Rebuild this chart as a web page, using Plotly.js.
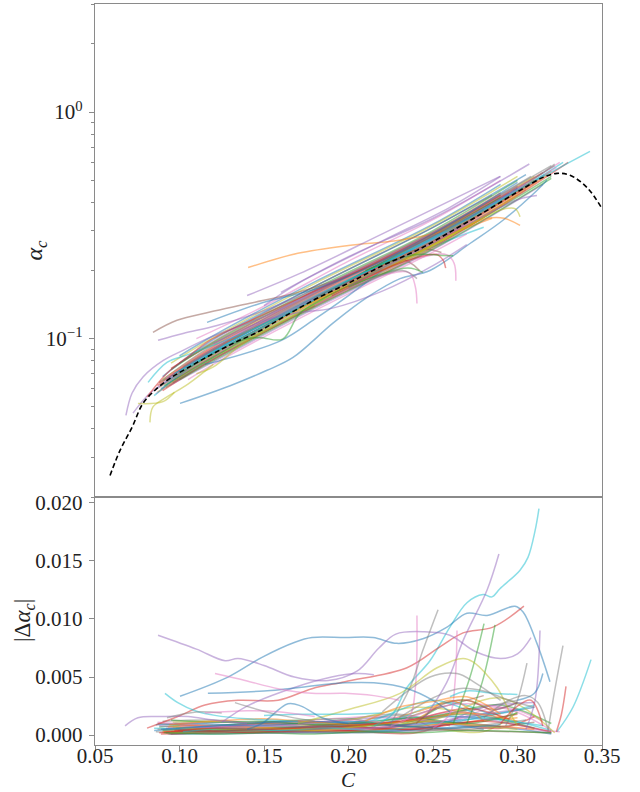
<!DOCTYPE html>
<html><head><meta charset="utf-8">
<script src="https://cdn.plot.ly/plotly-3.0.1.min.js"></script>
<style>body{margin:0;padding:0;background:#fff}#chart{width:640px;height:792px}</style>
</head><body><div id="chart"></div>
<script>
// ---------- data ----------
const tab10 = ['#1f77b4','#ff7f0e','#2ca02c','#d62728','#9467bd','#8c564b','#e377c2','#7f7f7f','#bcbd22','#17becf'];

const dashedC = [0.0589,0.0648,0.0719,0.0784,0.0867,0.0944,0.1044,0.1180,0.1317,0.1459,0.1612,0.1814,0.2009,0.2204,0.2405,0.2618,0.2820,0.3015,0.3151,0.3234,0.3311,0.3411,0.3500];
const dashedAlpha = [0.0249,0.0321,0.0406,0.0518,0.0603,0.0668,0.0740,0.0844,0.0953,0.1066,0.1242,0.1507,0.1772,0.2105,0.2453,0.3006,0.3683,0.4513,0.515,0.5364,0.526,0.465,0.375];

const topBand = [
 [[0.090,0.12,0.18,0.25,0.310],[0.063,0.086,0.148,0.268,0.49]],
 [[0.088,0.12,0.18,0.25,0.300],[0.064,0.090,0.156,0.282,0.47]],
 [[0.092,0.12,0.18,0.25,0.320],[0.061,0.082,0.141,0.255,0.52]],
 [[0.095,0.12,0.18,0.25,0.290],[0.074,0.095,0.163,0.295,0.44]],
 [[0.094,0.12,0.18,0.25,0.315],[0.062,0.079,0.136,0.247,0.48]],
 [[0.100,0.12,0.18,0.25,0.285],[0.078,0.097,0.170,0.310,0.43]],
 [[0.086,0.12,0.18,0.25,0.325],[0.057,0.085,0.150,0.275,0.60]],
 [[0.097,0.12,0.18,0.25,0.305],[0.066,0.083,0.144,0.260,0.455]],
 [[0.090,0.12,0.18,0.25,0.310],[0.066,0.093,0.160,0.290,0.52]],
 [[0.093,0.12,0.18,0.25,0.280],[0.067,0.088,0.150,0.255,0.31]],
 [[0.100,0.12,0.18,0.25,0.290],[0.084,0.103,0.178,0.320,0.48]],
 [[0.087,0.12,0.18,0.25,0.320],[0.058,0.084,0.145,0.262,0.55]],
 [[0.095,0.12,0.18,0.25,0.300],[0.073,0.096,0.166,0.300,0.50]],
 [[0.090,0.12,0.18,0.25,0.330],[0.059,0.081,0.139,0.252,0.60]],
 [[0.092,0.12,0.18,0.25,0.295],[0.066,0.090,0.155,0.281,0.44]],
 [[0.095,0.12,0.18,0.24,0.255],[0.067,0.086,0.148,0.247,0.24]],
 [[0.110,0.15,0.20,0.25,0.290],[0.100,0.139,0.220,0.335,0.50]],
 [[0.088,0.12,0.18,0.25,0.320],[0.064,0.094,0.163,0.295,0.58]],
 [[0.098,0.12,0.18,0.25,0.300],[0.068,0.083,0.142,0.257,0.43]],
 [[0.085,0.12,0.18,0.25,0.310],[0.056,0.088,0.151,0.273,0.50]],
 [[0.090,0.12,0.18,0.25,0.305],[0.068,0.099,0.170,0.310,0.53]],
 [[0.096,0.12,0.18,0.25,0.285],[0.068,0.086,0.148,0.268,0.34]],
 [[0.100,0.12,0.18,0.25,0.320],[0.066,0.080,0.138,0.249,0.51]],
 [[0.087,0.12,0.18,0.25,0.315],[0.062,0.092,0.158,0.287,0.54]],
 [[0.150,0.17,0.22,0.26,0.290],[0.140,0.175,0.270,0.380,0.52]],
 [[0.100,0.12,0.18,0.23,0.242],[0.070,0.086,0.148,0.225,0.20]],
 [[0.105,0.12,0.18,0.25,0.270],[0.066,0.077,0.133,0.241,0.29]],
 [[0.090,0.12,0.18,0.25,0.322],[0.065,0.089,0.154,0.279,0.58]],
 [[0.095,0.12,0.18,0.25,0.300],[0.078,0.101,0.175,0.316,0.52]],
 [[0.093,0.12,0.18,0.25,0.327],[0.065,0.086,0.148,0.268,0.60]],
 [[0.089,0.12,0.18,0.25,0.300],[0.060,0.087,0.152,0.277,0.46]],
 [[0.094,0.12,0.18,0.25,0.318],[0.069,0.091,0.146,0.258,0.53]],
 [[0.091,0.12,0.18,0.25,0.290],[0.062,0.083,0.150,0.285,0.42]],
 [[0.099,0.12,0.18,0.25,0.312],[0.071,0.089,0.152,0.270,0.50]],
 [[0.086,0.12,0.18,0.25,0.305],[0.060,0.090,0.161,0.283,0.48]],
 [[0.096,0.12,0.18,0.25,0.296],[0.064,0.081,0.140,0.263,0.43]],
 [[0.092,0.12,0.18,0.25,0.323],[0.067,0.092,0.150,0.266,0.57]],
 [[0.102,0.12,0.18,0.25,0.308],[0.075,0.090,0.158,0.292,0.52]],
 [[0.088,0.12,0.18,0.25,0.282],[0.061,0.085,0.146,0.259,0.35]],
 [[0.097,0.12,0.18,0.25,0.316],[0.070,0.088,0.153,0.276,0.53]]
];

const topOutliers = [
 [[0.1406,0.17,0.20,0.23,0.26,0.29,0.31],[0.206,0.238,0.258,0.272,0.305,0.40,0.50]],
 [[0.1003,0.13,0.1518,0.1672,0.1908,0.211,0.2305,0.2482,0.2719,0.2914,0.3115,0.3174],[0.0518,0.062,0.0725,0.0826,0.117,0.152,0.184,0.200,0.263,0.333,0.451,0.50]],
 [[0.115,0.124,0.16,0.18,0.20,0.22],[0.077,0.080,0.098,0.122,0.155,0.20]],
 [[0.0843,0.0985,0.118,0.1417,0.17,0.20,0.24,0.28],[0.1066,0.1205,0.131,0.1432,0.16,0.19,0.26,0.37]],
 [[0.0873,0.1021,0.1222,0.15,0.18,0.22,0.26,0.30],[0.0983,0.1054,0.1144,0.133,0.165,0.225,0.32,0.47]],
 [[0.0683,0.0719,0.0784,0.0902,0.1021,0.118,0.15,0.20],[0.0458,0.0574,0.0678,0.080,0.0888,0.1013,0.125,0.19]],
 [[0.0725,0.0825,0.0926,0.11,0.14,0.18],[0.0469,0.0574,0.0641,0.076,0.102,0.15]],
 [[0.0825,0.0843,0.0926,0.105,0.12],[0.0427,0.050,0.0553,0.063,0.077]],
 [[0.0754,0.0902,0.097],[0.0517,0.0527,0.058]],
 [[0.11,0.1198,0.1376,0.16,0.19],[0.070,0.0748,0.0953,0.118,0.155]],
 [[0.0814,0.0926,0.105,0.13,0.17],[0.0641,0.0785,0.085,0.100,0.135]],
 [[0.0808,0.0926,0.1044,0.118,0.15,0.20,0.25,0.29],[0.0553,0.0704,0.0826,0.0983,0.128,0.19,0.29,0.43]],
 [[0.1163,0.1476,0.1831,0.22,0.26,0.30],[0.118,0.143,0.168,0.22,0.32,0.49]],
 [[0.12,0.15,0.17,0.19,0.22,0.25,0.27],[0.095,0.120,0.130,0.136,0.162,0.21,0.26]],
 [[0.13,0.14,0.148,0.161,0.171,0.185,0.22],[0.094,0.100,0.101,0.0995,0.129,0.150,0.205]],
 [[0.14,0.1713,0.22,0.2897],[0.155,0.194,0.29,0.52]],
 [[0.16,0.20,0.25,0.307],[0.160,0.230,0.34,0.59]],
 [[0.10,0.15,0.20,0.25,0.30,0.3293,0.3429],[0.072,0.113,0.18,0.28,0.45,0.592,0.671]],
 [[0.18,0.22,0.26,0.282,0.292,0.3015],[0.148,0.205,0.29,0.339,0.34,0.316]],
 [[0.20,0.25,0.29,0.2985,0.3015],[0.17,0.26,0.37,0.375,0.345]],
 [[0.20,0.26,0.30,0.3115],[0.17,0.29,0.41,0.428]],
 [[0.20,0.24,0.258,0.2625,0.2635],[0.17,0.225,0.235,0.215,0.18]],
 [[0.18,0.22,0.236,0.2395,0.2405],[0.14,0.19,0.195,0.17,0.143]],
 [[0.19,0.23,0.252,0.256,0.2575],[0.155,0.215,0.235,0.222,0.205]],
 [[0.20,0.235,0.244],[0.17,0.205,0.196]],
 [[0.20,0.232,0.2405],[0.165,0.20,0.184]],
 [[0.21,0.24,0.255,0.262],[0.20,0.235,0.233,0.232]],
 [[0.20,0.26,0.30,0.322],[0.17,0.30,0.45,0.59]]
];
const topOutlierColors = ['#ff7f0e','#1f77b4','#1f77b4','#8c564b','#9467bd','#9467bd','#9467bd','#bcbd22','#bcbd22','#bcbd22','#17becf','#d62728','#1f77b4','#9467bd','#2ca02c','#9467bd','#9467bd','#17becf','#ff7f0e','#bcbd22','#9467bd','#e377c2','#e377c2','#d62728','#2ca02c','#7f7f7f','#2ca02c','#7f7f7f'];

const bottomMajor = [
 [[0.215,0.226,0.2346,0.2482,0.26,0.2701,0.2796,0.2849,0.2896,0.3015,0.3062,0.3104,0.3127],[0.0008,0.0018,0.0041,0.0064,0.0093,0.0114,0.0121,0.0119,0.0126,0.0142,0.0153,0.0176,0.0195]],
 [[0.1003,0.1287,0.1488,0.1683,0.1784,0.1979,0.2145,0.2287,0.244,0.2583,0.2701,0.282,0.2985,0.3033,0.3115,0.3192],[0.00335,0.0050,0.0067,0.0080,0.0084,0.0084,0.0084,0.0079,0.0083,0.0093,0.0105,0.0103,0.0111,0.0106,0.0079,0.0046]],
 [[0.0808,0.099,0.1151,0.1346,0.1583,0.1784,0.1979,0.2346,0.2541,0.2678,0.2855,0.3038],[0.0006,0.0016,0.0026,0.0030,0.0030,0.0040,0.0046,0.0058,0.0076,0.0088,0.0093,0.0111]],
 [[0.0873,0.11,0.127,0.1346,0.15,0.168,0.188,0.205,0.218,0.228,0.245,0.26,0.275,0.29,0.30,0.308],[0.0086,0.0074,0.0064,0.0066,0.0060,0.0050,0.0047,0.0055,0.0075,0.0087,0.0089,0.0086,0.0072,0.0066,0.0070,0.0084]],
 [[0.125,0.14,0.168,0.19,0.205,0.215],[0.0011,0.0025,0.0041,0.0050,0.0053,0.0052]],
 [[0.0678,0.0754,0.0896,0.105,0.12,0.14],[0.0008,0.0015,0.0016,0.0016,0.0013,0.0010]],
 [[0.245,0.258,0.268,0.282,0.289],[0.0015,0.0045,0.0082,0.0125,0.0156]],
 [[0.225,0.236,0.2395,0.2405],[0.0008,0.0016,0.0040,0.0103]],
 [[0.225,0.2364,0.244,0.253],[0.0010,0.0041,0.0073,0.0108]],
 [[0.25,0.26,0.263,0.2642],[0.0006,0.0018,0.0045,0.0090]],
 [[0.262,0.2719,0.2802],[0.0010,0.0050,0.0096]],
 [[0.27,0.279,0.2867],[0.0010,0.0045,0.0095]],
 [[0.318,0.321,0.3269],[0.0003,0.0030,0.0077]],
 [[0.3234,0.3328,0.3435],[0.0003,0.0024,0.0065]],
 [[0.323,0.326,0.3287],[0.0003,0.0018,0.0042]],
 [[0.305,0.3104,0.3133],[0.0005,0.0030,0.0090]],
 [[0.17,0.20,0.2305,0.2524,0.2678,0.2737,0.2879,0.2956,0.30],[0.0010,0.0022,0.0036,0.0058,0.0066,0.0063,0.0041,0.0019,0.0008]],
 [[0.22,0.2482,0.2642,0.275,0.29],[0.0020,0.0050,0.0053,0.0045,0.0030]],
 [[0.1168,0.15,0.1979,0.215,0.235,0.25,0.26],[0.0036,0.0038,0.0045,0.0045,0.0040,0.0030,0.0020]],
 [[0.121,0.1388,0.1583,0.1784,0.1979,0.215,0.23],[0.0053,0.0047,0.0040,0.0036,0.0036,0.0034,0.0030]],
 [[0.0914,0.099,0.1092,0.121,0.14,0.17],[0.0036,0.0028,0.0021,0.0017,0.0014,0.0012]],
 [[0.15,0.17,0.20,0.22],[0.0017,0.0018,0.0018,0.0019]],
 [[0.14,0.1488,0.1642,0.172,0.1843,0.20],[0.0005,0.0010,0.0027,0.0025,0.0015,0.0010]],
 [[0.1328,0.1488,0.16,0.18],[0.0028,0.0021,0.0017,0.0012]],
 [[0.0926,0.11,0.125],[0.0015,0.0020,0.0019]],
 [[0.115,0.14,0.16,0.18],[0.0019,0.0021,0.0020,0.0016]],
 [[0.293,0.30,0.3056],[0.0008,0.0030,0.0062]],
 [[0.26,0.27,0.285,0.30],[0.0033,0.0038,0.0036,0.0035]],
 [[0.30,0.31,0.315],[0.0030,0.0036,0.0053]],
 [[0.28,0.295,0.305,0.312,0.318],[0.0015,0.0030,0.0034,0.0028,0.0005]],
 [[0.29,0.30,0.308,0.315],[0.0010,0.0025,0.0030,0.0008]],
 [[0.23,0.25,0.265,0.28,0.295,0.31],[0.0015,0.0032,0.0040,0.0038,0.0030,0.0024]],
 [[0.24,0.255,0.27,0.285,0.30],[0.0010,0.0026,0.0030,0.0022,0.0028]],
 [[0.21,0.23,0.25,0.27,0.29],[0.0012,0.0024,0.0029,0.0033,0.0018]]
];
const bottomMajorColors = ['#17becf','#1f77b4','#d62728','#9467bd','#9467bd','#9467bd','#9467bd','#e377c2','#7f7f7f','#e377c2','#2ca02c','#2ca02c','#7f7f7f','#17becf','#d62728','#9467bd','#bcbd22','#7f7f7f','#1f77b4','#e377c2','#17becf','#17becf','#1f77b4','#7f7f7f','#7f7f7f','#e377c2','#7f7f7f','#17becf','#1f77b4','#7f7f7f','#d62728','#7f7f7f','#8c564b','#ff7f0e'];

const bottomMinor = [
 [[0.085,0.12,0.16,0.20,0.24,0.28],[0.0004,0.0006,0.0005,0.0008,0.0012,0.0005]],
 [[0.09,0.13,0.17,0.21,0.25,0.30],[0.0002,0.0003,0.0004,0.0006,0.0009,0.0015]],
 [[0.088,0.11,0.15,0.19,0.23,0.27,0.31],[0.0007,0.0009,0.0006,0.0007,0.0011,0.0018,0.0006]],
 [[0.095,0.12,0.16,0.20,0.24,0.265],[0.0001,0.0003,0.0007,0.0004,0.0002,0.0015]],
 [[0.10,0.14,0.18,0.22,0.26,0.30,0.32],[0.0005,0.0004,0.0003,0.0005,0.0016,0.0009,0.0002]],
 [[0.087,0.12,0.16,0.20,0.24,0.27],[0.0010,0.0008,0.0011,0.0009,0.0013,0.0022]],
 [[0.092,0.13,0.17,0.21,0.25,0.29,0.315],[0.0003,0.0002,0.0002,0.0003,0.0007,0.0024,0.0012]],
 [[0.09,0.12,0.15,0.19,0.23,0.26],[0.0012,0.0013,0.0010,0.0012,0.0018,0.0008]],
 [[0.098,0.13,0.17,0.21,0.25,0.28,0.30],[0.0002,0.0005,0.0008,0.0010,0.0006,0.0003,0.0020]],
 [[0.085,0.11,0.14,0.18,0.22,0.26,0.29],[0.0006,0.0005,0.0004,0.0006,0.0010,0.0028,0.0013]],
 [[0.094,0.12,0.16,0.20,0.24,0.28,0.32],[0.0001,0.0001,0.0002,0.0002,0.0004,0.0008,0.0001]],
 [[0.10,0.13,0.17,0.21,0.24,0.27,0.295],[0.0009,0.0007,0.0005,0.0008,0.0020,0.0030,0.0010]],
 [[0.09,0.12,0.16,0.20,0.23,0.255],[0.0004,0.0008,0.0012,0.0014,0.0009,0.0025]],
 [[0.095,0.13,0.17,0.21,0.25,0.29,0.31],[0.0003,0.0004,0.0006,0.0004,0.0012,0.0006,0.0016]],
 [[0.088,0.12,0.15,0.18,0.22,0.26,0.30],[0.0008,0.0006,0.0008,0.0011,0.0015,0.0012,0.0028]],
 [[0.092,0.13,0.17,0.21,0.25,0.28],[0.0002,0.0004,0.0003,0.0006,0.0022,0.0034]],
 [[0.10,0.14,0.18,0.22,0.26,0.30,0.325],[0.0006,0.0009,0.0013,0.0016,0.0010,0.0006,0.0003]],
 [[0.086,0.11,0.15,0.19,0.23,0.27,0.30],[0.0003,0.0002,0.0003,0.0005,0.0008,0.0021,0.0030]],
 [[0.096,0.12,0.16,0.20,0.24,0.275],[0.0011,0.0012,0.0009,0.0013,0.0024,0.0018]],
 [[0.09,0.13,0.17,0.21,0.25,0.29,0.32],[0.0005,0.0006,0.0009,0.0012,0.0016,0.0014,0.0004]],
 [[0.10,0.13,0.16,0.20,0.24,0.28,0.31],[0.0002,0.0003,0.0004,0.0003,0.0005,0.0016,0.0024]],
 [[0.093,0.12,0.16,0.20,0.24,0.26,0.28],[0.0007,0.0008,0.0006,0.0009,0.0014,0.0030,0.0012]],
 [[0.105,0.14,0.18,0.22,0.26,0.29,0.32],[0.0004,0.0005,0.0007,0.0009,0.0019,0.0026,0.0010]],
 [[0.089,0.12,0.16,0.20,0.24,0.27,0.30],[0.0001,0.0002,0.0003,0.0004,0.0006,0.0011,0.0018]],
 [[0.097,0.13,0.17,0.21,0.25,0.28,0.31],[0.0010,0.0011,0.0012,0.0010,0.0008,0.0024,0.0028]],
 [[0.091,0.12,0.15,0.19,0.23,0.27,0.32],[0.0003,0.0006,0.0010,0.0008,0.0005,0.0004,0.0002]],
 [[0.10,0.14,0.18,0.22,0.26,0.295,0.32],[0.0008,0.0006,0.0005,0.0007,0.0026,0.0022,0.0004]],
 [[0.087,0.12,0.16,0.20,0.23,0.25],[0.0005,0.0004,0.0006,0.0010,0.0017,0.0006]],
 [[0.094,0.13,0.17,0.21,0.25,0.29,0.322],[0.0002,0.0003,0.0005,0.0008,0.0013,0.0032,0.0002]],
 [[0.098,0.13,0.17,0.21,0.25,0.28,0.31],[0.0006,0.0008,0.0007,0.0011,0.0030,0.0018,0.0026]],
 [[0.086,0.11,0.14,0.17,0.20,0.23,0.26,0.29],[0.0009,0.0010,0.0008,0.0010,0.0012,0.0009,0.0011,0.0007]],
 [[0.09,0.115,0.14,0.17,0.20,0.23,0.26,0.31],[0.0003,0.0005,0.0007,0.0005,0.0003,0.0006,0.0010,0.0005]],
 [[0.095,0.12,0.15,0.18,0.21,0.24,0.27,0.30],[0.0013,0.0011,0.0012,0.0009,0.0011,0.0015,0.0010,0.0019]],
 [[0.088,0.11,0.14,0.17,0.20,0.24,0.28,0.32],[0.0002,0.0004,0.0002,0.0004,0.0007,0.0005,0.0012,0.0003]],
 [[0.092,0.12,0.15,0.18,0.21,0.24,0.27,0.30],[0.0006,0.0007,0.0009,0.0007,0.0006,0.0009,0.0016,0.0022]],
 [[0.099,0.12,0.15,0.18,0.21,0.24,0.27,0.31],[0.0004,0.0003,0.0005,0.0008,0.0010,0.0007,0.0005,0.0011]],
 [[0.087,0.11,0.14,0.17,0.20,0.23,0.26,0.285],[0.0011,0.0009,0.0007,0.0009,0.0013,0.0011,0.0020,0.0016]],
 [[0.093,0.12,0.15,0.18,0.21,0.24,0.27,0.305],[0.0001,0.0002,0.0004,0.0003,0.0002,0.0003,0.0007,0.0013]],
 [[0.096,0.12,0.15,0.18,0.21,0.24,0.27,0.30],[0.0007,0.0005,0.0006,0.0004,0.0008,0.0012,0.0009,0.0005]],
 [[0.102,0.13,0.16,0.19,0.22,0.25,0.28,0.315],[0.0003,0.0006,0.0004,0.0006,0.0004,0.0010,0.0014,0.0008]],
 [[0.089,0.11,0.14,0.17,0.20,0.23,0.26,0.29],[0.0005,0.0007,0.0010,0.0012,0.0010,0.0008,0.0006,0.0009]],
 [[0.094,0.12,0.15,0.18,0.21,0.24,0.27,0.30],[0.0009,0.0012,0.0014,0.0011,0.0009,0.0013,0.0019,0.0012]],
 [[0.091,0.12,0.15,0.18,0.21,0.24,0.27,0.32],[0.0002,0.0001,0.0002,0.0001,0.0003,0.0002,0.0004,0.0002]],
 [[0.097,0.12,0.15,0.18,0.21,0.24,0.27,0.295],[0.0004,0.0006,0.0005,0.0007,0.0009,0.0014,0.0023,0.0014]]
];

const xTicks = [0.05,0.10,0.15,0.20,0.25,0.30,0.35];
const xTickText = ['0.05','0.10','0.15','0.20','0.25','0.30','0.35'];
const yBotTicks = [0.000,0.005,0.010,0.015,0.020];
const yBotTickText = ['0.000','0.005','0.010','0.015','0.020'];
const yTopTicks = [0.1,1];
const yTopTickText = ['10<sup>\u22121</sup>','10<sup>0</sup>'];
const yTopMinor = [0.02,0.03,0.04,0.05,0.06,0.07,0.08,0.09,0.2,0.3,0.4,0.5,0.6,0.7,0.8,0.9,2,3];

// ---------- traces ----------
const traces = [];
const LW = 1.5, OP = 0.5;
function line(c, v, color, ax) {
  return {x: c, y: v, type: 'scatter', mode: 'lines', xaxis: ax[0], yaxis: ax[1],
    line: {color: color, width: LW, shape: 'spline', smoothing: 1}, opacity: OP,
    hoverinfo: 'skip', showlegend: false};
}
topBand.forEach((p, i) => traces.push(line(p[0], p[1], tab10[i % 10], ['x2','y2'])));
topOutliers.forEach((p, i) => traces.push(line(p[0], p[1], topOutlierColors[i], ['x2','y2'])));
traces.push({x: dashedC, y: dashedAlpha, type: 'scatter', mode: 'lines', xaxis: 'x2', yaxis: 'y2',
  line: {color: '#000', width: 1.6, dash: '5px,3px', shape: 'spline'}, showlegend: false, hoverinfo: 'skip'});
bottomMinor.forEach((p, i) => traces.push(line(p[0], p[1], tab10[i % 10], ['x','y'])));
bottomMajor.forEach((p, i) => traces.push(line(p[0], p[1], bottomMajorColors[i], ['x','y'])));

// ---------- layout ----------
const FONT = 'Liberation Serif, DejaVu Serif, serif';
const spine = '#8a8a8a';
const split = 248 / 741;
const axBase = {showline: true, mirror: true, linecolor: spine, linewidth: 1.3, zeroline: false, showgrid: false,
  ticks: 'outside', ticklen: 5, tickcolor: spine, tickwidth: 1, ticklabelstandoff: 2,
  tickfont: {family: FONT, size: 21, color: '#222'}};

const layout = {
  width: 640, height: 792,
  margin: {l: 95, r: 38, t: 4, b: 47},
  paper_bgcolor: '#fff', plot_bgcolor: '#fff',
  showlegend: false,
  xaxis: Object.assign({}, axBase, {range: [0.05, 0.35], tickvals: xTicks, ticktext: xTickText, anchor: 'y', domain: [0, 1], ticklabelstandoff: -14}),
  yaxis: Object.assign({}, axBase, {range: [-0.00085, 0.0205], tickvals: yBotTicks, ticktext: yBotTickText, domain: [0, split], anchor: 'x'}),
  xaxis2: Object.assign({}, axBase, {range: [0.05, 0.35], showticklabels: false, ticks: '', anchor: 'y2', matches: 'x'}),
  yaxis2: Object.assign({}, axBase, {type: 'log', range: [Math.log10(0.02), Math.log10(3)], tickvals: yTopTicks, ticktext: yTopTickText,
     domain: [split, 1], anchor: 'x2',
     minor: {tickvals: yTopMinor, ticks: 'outside', ticklen: 3, tickcolor: spine, tickwidth: 1}}),
  annotations: [
    {text: '<i>α<sub>c</sub></i>', xref: 'paper', yref: 'paper', x: 0, xshift: -59, y: split + (1 - split) / 2,
     xanchor: 'center', yanchor: 'middle', textangle: -90,
     showarrow: false, font: {family: FONT, size: 24, color: '#222'}},
    {text: '|Δ<i>α<sub>c</sub></i>|', xref: 'paper', yref: 'paper', x: 0, xshift: -71, y: split / 2,
     xanchor: 'center', yanchor: 'middle', textangle: -90,
     showarrow: false, font: {family: FONT, size: 23, color: '#222'}},
    {text: '<i>C</i>', xref: 'paper', yref: 'paper', x: 0.5, y: 0, yshift: -35, xanchor: 'center', yanchor: 'middle',
     showarrow: false, font: {family: FONT, size: 21, color: '#222'}}
  ]
};

Plotly.newPlot('chart', traces, layout, {staticPlot: true, displayModeBar: false});
</script>
</body></html>
